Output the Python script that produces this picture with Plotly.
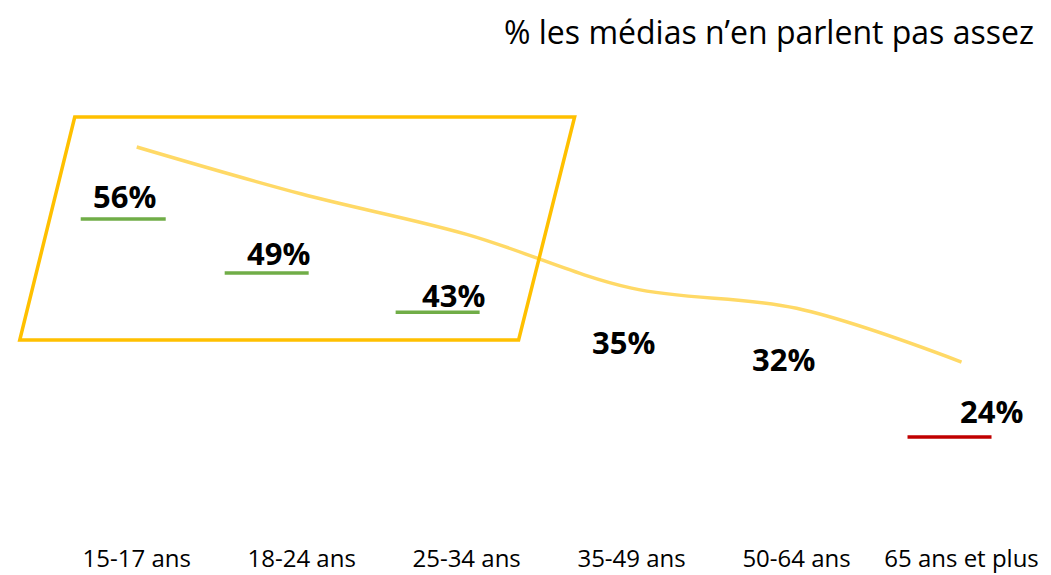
import plotly.graph_objects as go

categories = ["15-17 ans", "18-24 ans", "25-34 ans", "35-49 ans", "50-64 ans", "65 ans et plus"]
values = [56, 49, 43, 35, 32, 24]
title_text = "% les médias n’en parlent pas assez"

# label offsets (pixels) relative to the data point: (dx, dy down)
label_dx = [-12, -23, -13, -8, -13, 30]
label_dy = [49, 59, 61, 54, 51, 49]
# underline (index, x0, x1, dy down, color)
underlines = [
    (0, -56, 29, 72, "#70AD47"),
    (1, -77, 7, 79, "#70AD47"),
    (2, -71, 13, 78, "#70AD47"),
    (5, -54, 30, 75, "#C00000"),
]

OFF = 8  # page body margin
W, H = 1051 - OFF, 575 - OFF
XR = [-0.75, 5.5]
# page-pixel layout of the plot area
PL, PR, PT, PB = 137 - 0.75 * 165, 137 + 5.5 * 165, 40, 540
ML, MR, MT, MB = PL - OFF, W - (PR - OFF), PT - OFF, H - (PB - OFF)
YR = [-2.48, 71.92]
PW = W - ML - MR
PH = H - MT - MB

def px2paper(px, py):
    # page pixel -> paper coords
    fx, fy = px - OFF, py - OFF
    return (fx - ML) / PW, (H - MB - fy) / PH

FONT = "Open Sans"

fig = go.Figure()
fig.add_trace(go.Scatter(
    x=list(range(len(categories))), y=values, mode="lines",
    line=dict(color="#FFD966", width=3.5, shape="spline", smoothing=1.0),
    hoverinfo="skip", showlegend=False,
))

annotations = []
for i, v in enumerate(values):
    annotations.append(dict(
        x=i, y=v, xref="x", yref="y", text=f"<b>{v}%</b>", showarrow=False,
        xshift=label_dx[i], yshift=-label_dy[i], xanchor="center", yanchor="middle",
        font=dict(family=FONT, size=31, color="#000000"),
    ))

tx, ty = px2paper(1036, 32)
annotations.append(dict(
    x=tx, y=ty, xref="paper", yref="paper", text=title_text, showarrow=False,
    xanchor="right", yanchor="middle", font=dict(family=FONT, size=32, color="#000000"),
))

shapes = []
for i, x0, x1, dy, col in underlines:
    shapes.append(dict(
        type="line", xref="x", yref="y", xsizemode="pixel", ysizemode="pixel",
        xanchor=i, yanchor=values[i], x0=x0, x1=x1, y0=-dy, y1=-dy,
        line=dict(color=col, width=3.5),
    ))

pts = [(75, 117), (575, 117), (519, 340), (20, 340)]
pp = [px2paper(*p) for p in pts]
path = "M " + " L ".join(f"{a:.5f},{b:.5f}" for a, b in pp) + " Z"
shapes.append(dict(type="path", xref="paper", yref="paper", path=path,
                   line=dict(color="#FFC000", width=3.5), fillcolor="rgba(0,0,0,0)"))

fig.update_layout(
    width=W, height=H,
    margin=dict(l=ML, r=MR, t=MT, b=MB, pad=0, autoexpand=False),
    paper_bgcolor="white", plot_bgcolor="white",
    annotations=annotations, shapes=shapes,
    xaxis=dict(range=XR, tickmode="array", tickvals=list(range(len(categories))),
               ticktext=categories, showgrid=False, zeroline=False, showline=False,
               ticks="", ticklabelstandoff=2, automargin=False,
               tickfont=dict(family=FONT, size=24, color="#000000")),
    yaxis=dict(range=YR, visible=False, showgrid=False, zeroline=False, automargin=False),
    font=dict(family=FONT),
)

fig.write_html("out.html")
